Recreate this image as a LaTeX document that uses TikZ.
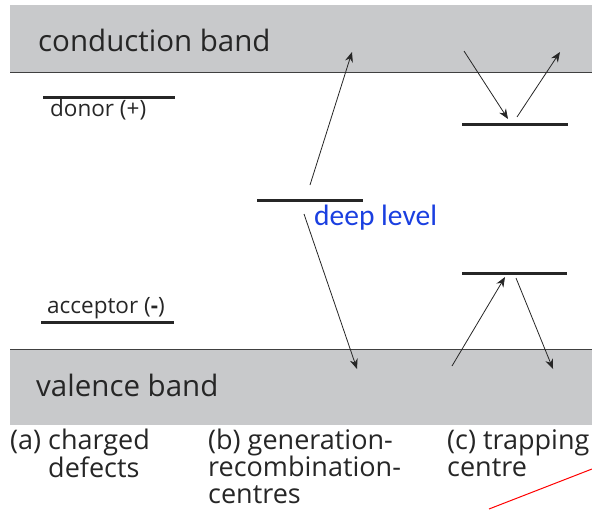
\documentclass[tikz,border=0pt]{standalone}
\usepackage{fontspec}
\setmainfont{Open Sans}
\newfontfamily\carlito{Carlito}
\usetikzlibrary{arrows.meta}
\definecolor{bandgray}{HTML}{C8C9CB}
\definecolor{deepblue}{HTML}{1A3FE0}
\tikzset{
  band/.style={fill=bandgray, draw=none},
  level/.style={line width=3pt, black!85},
  trans/.style={line width=0.8pt, black!85, -{Stealth[length=10pt,width=8pt]}},
  bandtxt/.style={font=\fontsize{29.5}{32}\selectfont, text=black!85, anchor=west, inner sep=0pt},
  lvltxt/.style={font=\fontsize{22.5}{26}\selectfont, text=black!85, inner sep=0pt},
  captxt/.style={font=\fontsize{27}{27}\selectfont, text=black!85, anchor=north west, inner sep=0pt, align=left},
}
\begin{document}
\begin{tikzpicture}[x=1pt,y=-1pt]
\useasboundingbox (0,0) rectangle (592,509);
% bands
\fill[band] (10,5) rectangle (592,72);
\draw[black!75, line width=0.8pt] (10,72) -- (592,72);
\fill[band] (10,349) rectangle (592,425);
\draw[black!75, line width=0.8pt] (10,349) -- (592,349);
\node[bandtxt] (cb) at (38,40) {conduction band};
\node[bandtxt] (vb) at (36,385) {valence band};
% (a) charged defects
\draw[level] (43,97) coordinate (dl) -- (175,97) coordinate (dr);
\node[lvltxt, anchor=west] (donor) at (50,110) {donor (+)};
\draw[level] (41,322) coordinate (al) -- (174,322) coordinate (ar);
\node[lvltxt, anchor=west] (acc) at (47,308) {acceptor (\textbf{-})};
% (b) deep level
\draw[level] (257,200) coordinate (gl) -- (363,200) coordinate (gr);
\node[font=\carlito\fontsize{29.5}{32}\selectfont, text=deepblue, anchor=west, inner sep=0pt] (deep) at (314,218) {deep level};
\coordinate (b1s) at (310,185);
\coordinate (b1e) at (352,52);
\coordinate (b2s) at (304,214);
\coordinate (b2e) at (357,369);
\draw[trans] (b1s) -- (b1e);
\draw[trans] (b2s) -- (b2e);
% (c) trapping
\draw[level] (462,124) coordinate (tl) -- (568,124) coordinate (tr);
\draw[level] (462,273) coordinate (ul) -- (567,273) coordinate (ur);
\coordinate (c1s) at (464,51);
\coordinate (c1e) at (508,119);
\coordinate (c2s) at (517,117);
\coordinate (c2e) at (560,52);
\coordinate (c3s) at (452,366);
\coordinate (c3e) at (505,277);
\coordinate (c4s) at (516,278);
\coordinate (c4e) at (553,369);
\draw[trans] (c1s) -- (c1e);
\draw[trans] (c2s) -- (c2e);
\draw[trans] (c3s) -- (c3e);
\draw[trans] (c4s) -- (c4e);
% captions
\node[captxt] (capa) at (10,429) {(a) charged\\\hspace*{38pt}defects};
\node[captxt] (capb) at (208,429) {(b) generation-\\recombination-\\centres};
\node[captxt] (capc) at (447,429) {(c) trapping\\centre};
% red line
\coordinate (r1) at (489,509);
\coordinate (r2) at (592,469);
\draw[red, line width=1pt] (r1) -- (r2);
\end{tikzpicture}
\end{document}
